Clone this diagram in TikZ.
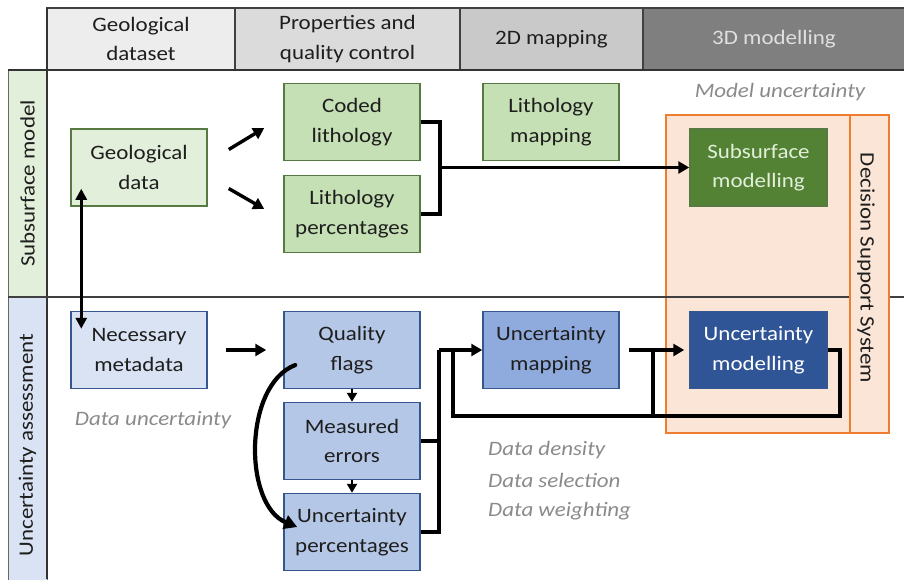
\documentclass[tikz,border=0pt]{standalone}
\usepackage{fontspec}
\setmainfont{Carlito}[FakeStretch=1.12]
\usetikzlibrary{arrows.meta,calc}
\definecolor{hA}{HTML}{EDEDED}
\definecolor{hB}{HTML}{DBDBDB}
\definecolor{hC}{HTML}{C9C9C9}
\definecolor{hD}{HTML}{7F7F7F}
\definecolor{gLight}{HTML}{E2EFDA}
\definecolor{gMid}{HTML}{C5E0B4}
\definecolor{gDark}{HTML}{548235}
\definecolor{gLine}{HTML}{577A43}
\definecolor{bLight}{HTML}{DAE3F3}
\definecolor{bMid}{HTML}{B4C7E7}
\definecolor{bMap}{HTML}{8FAADC}
\definecolor{bDark}{HTML}{2F5597}
\definecolor{bLine}{HTML}{35568F}
\definecolor{oFill}{HTML}{FBE5D6}
\definecolor{oLine}{HTML}{ED7D31}
\definecolor{txt}{HTML}{1E1E1E}
\definecolor{note}{HTML}{8A8A8A}
\tikzset{
  fnt/.style={font=\fontsize{20.5}{29.5}\selectfont},
  hdr/.style={draw=black!75, line width=1.4pt, minimum height=62pt, inner sep=0pt, align=center, fnt, text=txt},
  box/.style={line width=1.5pt, minimum width=136pt, minimum height=77pt, inner sep=0pt, align=center, fnt, text=txt},
  gbox/.style={box, draw=gLine},
  bbox/.style={box, draw=bLine},
  conn/.style={line width=3.4pt, draw=black},
  arr/.style={conn, -{Triangle[length=11pt,width=12pt]}},
  arrsm/.style={line width=2.4pt, -{Triangle[length=9pt,width=10pt]}},
  notetxt/.style={text=note, font=\fontsize{20.5}{29.5}\selectfont\itshape, inner sep=0pt},
  lbl/.style={fnt, text=txt, inner sep=0pt}
}
\begin{document}
\begin{tikzpicture}[x=1pt,y=-1pt]
\useasboundingbox (0,0) rectangle (904,579);
% header
\node[hdr, fill=hA, minimum width=188pt] (h1) at (141,39) {Geological\\dataset};
\node[hdr, fill=hB, minimum width=225pt] (h2) at (347.5,39) {Properties and\\quality control};
\node[hdr, fill=hC, minimum width=183pt] (h3) at (551.5,39) {2D mapping};
\node[hdr, fill=hD, minimum width=262pt, text=black!12] (h4) at (774,39) {3D modelling};
% row labels
\node[draw=black!60, line width=1pt, fill=gLight, minimum width=39pt, minimum height=227pt, inner sep=0pt] (r1) at (27.5,183.5) {};
\node[lbl, rotate=90] (r1t) at (27.5,183.5) {Subsurface model};
\node[draw=black!60, line width=1pt, fill=bLight, minimum width=39pt, minimum height=284pt, inner sep=0pt] (r2) at (27.5,439) {};
\node[lbl, rotate=90] (r2t) at (27.5,445) {Uncertainty assessment};
% frame lines
\coordinate (fA) at (47,8);
\coordinate (fB) at (47,579);
\coordinate (fC) at (8,70);
\coordinate (fD) at (904,70);
\draw[line width=1.4pt, black!80] (fA) -- (fB);
\draw[line width=1.4pt, black!80] (fC) -- (fD);
% orange DSS
\node[draw=oLine, fill=oFill, line width=1.5pt, minimum width=184pt, minimum height=318pt, inner sep=0pt] (dss) at (758,274) {};
% divider between rows
\coordinate (dvA) at (8,297);
\coordinate (dvB) at (904,297);
\draw[line width=1.3pt, black!75] (dvA) -- (dvB);
\node[draw=oLine, fill=oFill, line width=1.5pt, minimum width=39pt, minimum height=318pt, inner sep=0pt] (dsss) at (869.5,274) {};
\node[lbl, rotate=-90] (dsst) at (866,268) {Decision Support System};
% boxes subsurface
\node[gbox, fill=gLight] (geo) at (139,167.5) {Geological\\data};
\node[gbox, fill=gMid] (coded) at (352,122) {Coded\\lithology};
\node[gbox, fill=gMid] (litp) at (352,214) {Lithology\\percentages};
\node[gbox, fill=gMid] (lmap) at (551,122) {Lithology\\mapping};
\node[gbox, fill=gDark, text=gLight, minimum width=137pt] (subm) at (758.5,167.5) {Subsurface\\modelling};
% boxes uncertainty
\node[bbox, fill=bLight] (nec) at (139,350) {Necessary\\metadata};
\node[bbox, fill=bMid] (qf) at (352,350) {Quality\\flags};
\node[bbox, fill=bMid] (me) at (352,441) {Measured\\errors};
\node[bbox, fill=bMid] (up) at (352,532) {Uncertainty\\percentages};
\node[bbox, fill=bMap] (umap) at (551,350) {Uncertainty\\mapping};
\node[bbox, fill=bDark, text=white, minimum width=137pt] (umod) at (758.5,350) {Uncertainty\\modelling};
% notes
\node[notetxt] (n1) at (780,92) {Model uncertainty};
\node[notetxt] (n2) at (153,420) {Data uncertainty};
\node[notetxt, anchor=west] (n3) at (488,450) {Data density};
\node[notetxt, anchor=west] (n4) at (488,480) {Data selection};
\node[notetxt, anchor=west] (n5) at (488,511) {Data weighting};
% connectors subsurface
\draw[arr] ($(geo.east)+(21,-18)$) -- ($(coded.west)+(-19,6)$);
\draw[arr] ($(geo.east)+(21,21)$) -- ($(litp.west)+(-19,-5)$);
\coordinate (b1) at (440,167.5);
\draw[conn] (coded.east) -| (b1) |- (litp.east);
\draw[arr] (b1) -- (subm.west);
% geo <-> nec
\draw[line width=2.8pt, {Triangle[length=11pt,width=11pt]}-{Triangle[length=11pt,width=11pt]}] ($(geo.south west)+(11,-18)$) -- ($(nec.north west)+(11,18)$);
% uncertainty connectors
\draw[arr] ($(nec.east)+(18,0)$) -- ($(qf.west)+(-17,0)$);
\draw[arrsm] (qf.south) -- (me.north);
\draw[arrsm] (me.south) -- (up.north);
\draw[line width=4.2pt, line cap=round, -{Triangle[length=13pt,width=14pt]}] ($(qf.west)+(12,15)$) .. controls ($(qf.west)+(-40,35)$) and ($(up.west)+(-40,-27)$) .. ($(up.west)+(14,-5)$);
\coordinate (b2) at (439,350);
\draw[conn] (up.east) -| (b2);
\draw[conn] (me.east) -- (me.east -| b2);
\draw[arr] (b2) -- (umap.west);
\draw[arr] ($(umap.east)+(9,0)$) -- ($(umod.west)+(-5,0)$);
\coordinate (fb1) at (840,416);
\coordinate (fb2) at (453,416);
\coordinate (fb3) at (653,350);
\coordinate (fb4) at (653,416);
\draw[conn, line join=miter] (umod.east) -| (fb1) -- (fb2) -- (fb2 |- umap.west);
\draw[conn] (fb3) -- (fb4);
\end{tikzpicture}
\end{document}
